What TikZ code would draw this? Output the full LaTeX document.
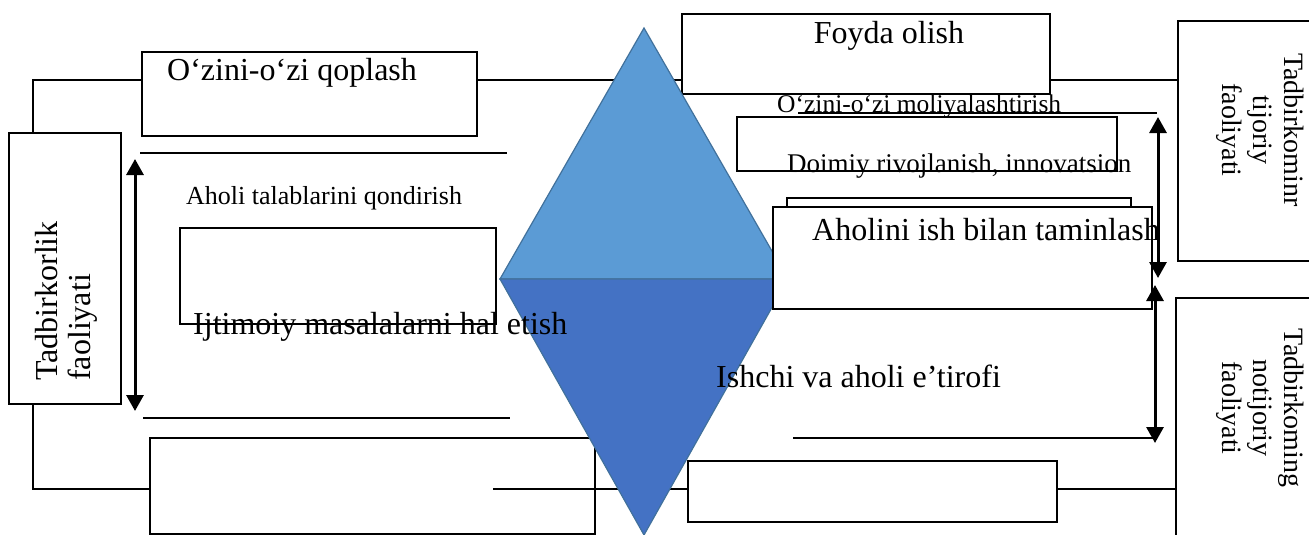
\documentclass[tikz,border=0pt]{standalone}
\usepackage{fontspec}
\setmainfont{Liberation Serif}
\usetikzlibrary{arrows.meta}
\definecolor{dlight}{HTML}{5B9BD5}
\definecolor{ddark}{HTML}{4472C4}
\definecolor{dedge}{HTML}{41719C}
\begin{document}
\begin{tikzpicture}[x=1pt,y=-1pt,
  box/.style={draw=black,line width=1.2pt,inner sep=0pt,outer sep=0pt},
  rule/.style={draw=black,line width=1.2pt},
  dbl/.style={draw=black,line width=3pt,{Triangle[width=17pt,length=16pt]}-{Triangle[width=17pt,length=16pt]}},
  big/.style={font=\fontsize{32}{36}\selectfont,inner sep=0pt,anchor=base west},
  mid/.style={font=\fontsize{26}{30}\selectfont,inner sep=0pt,anchor=base west},
  vert/.style={inner sep=0pt,font=\fontsize{28}{31}\selectfont,align=center}
]
\useasboundingbox (0,0) rectangle (1309,535);
% boxes under the diamond
\node[box,minimum width=112pt,minimum height=271pt] (L) at (65,268.5) {};
\node[box,minimum width=335pt,minimum height=84pt] (B) at (309.5,94) {};
\node[box,minimum width=368pt,minimum height=80pt] (F) at (866,54) {};
\node[box,minimum width=152pt,minimum height=240pt] (R1) at (1254,141) {};
\node[box,minimum width=154pt,minimum height=262pt] (R2) at (1253,429) {};
\node[box,minimum width=445pt,minimum height=96pt] (BL) at (372.5,486) {};
\node[box,minimum width=369pt,minimum height=61pt] (BR) at (872.5,491.5) {};
\node[box,minimum width=316pt,minimum height=96pt] (E1) at (338,276) {};
\node[box,minimum width=380pt,minimum height=54pt] (D) at (927,144) {};
% connectors
\coordinate (j1) at (33,80);
\draw[rule] (j1 |- L.north) -- (j1) -- (j1 -| B.west);
\draw[rule] (j1 -| B.east) -- (j1 -| F.west);
\draw[rule] (j1 -| F.east) -- (j1 -| R1.west);
\coordinate (j2) at (33,489);
\coordinate (j3) at (493,489);
\draw[rule] (j2 |- L.south) -- (j2) -- (j2 -| BL.west);
\draw[rule] (j3) -- (j3 -| BR.west);
\draw[rule] (j3 -| BR.east) -- (j3 -| R2.west);
% diamond
\coordinate (dt) at (644,28);
\coordinate (dl) at (500,279);
\coordinate (dr) at (788,279);
\coordinate (db) at (644,535);
\filldraw[fill=dlight,draw=dedge,line width=1.2pt] (dt) -- (dr) -- (dl) -- cycle;
\filldraw[fill=ddark,draw=dedge,line width=1.2pt] (dl) -- (dr) -- (db) -- cycle;
% boxes over the diamond
\node[box,minimum width=344pt,minimum height=92pt] (K) at (959,244) {};
\node[box,fill=white,minimum width=379pt,minimum height=102pt] (A) at (962.5,258) {};
% rules
\coordinate (r1a) at (140,153); \coordinate (r1b) at (507,153);
\coordinate (r2a) at (143,418); \coordinate (r2b) at (510,418);
\coordinate (r3a) at (798,113); \coordinate (r3b) at (1157,113);
\coordinate (r4a) at (793,438); \coordinate (r4b) at (1155,438);
\draw[rule] (r1a) -- (r1b);
\draw[rule] (r2a) -- (r2b);
\draw[rule] (r3a) -- (r3b);
\draw[rule] (r4a) -- (r4b);
% arrows
\coordinate (a1t) at (135,159); \coordinate (a1b) at (135,411);
\coordinate (a2t) at (1158,117); \coordinate (a2b) at (1158,278);
\coordinate (a3t) at (1155,285); \coordinate (a3b) at (1155,443);
\draw[dbl] (a1t) -- (a1b);
\draw[dbl] (a2t) -- (a2b);
\draw[dbl] (a3t) -- (a3b);
% texts
\node[big] (tB) at (167,81) {O‘zini-o‘zi qoplash};
\node[big,anchor=base] (tF) at (889,44) {Foyda olish};
\node[mid] (tAt) at (186,204) {Aholi talablarini qondirish};
\node[big] (tIj) at (193,334) {Ijtimoiy masalalarni hal etish};
\node[mid,font=\fontsize{25.5}{30}\selectfont] (tMo) at (777,112) {O‘zini-o‘zi moliyalashtirish};
\node[mid,font=\fontsize{27}{30}\selectfont] (tDo) at (787,172) {Doimiy rivojlanish, innovatsion};
\node[big] (tAh) at (812,240) {Aholini ish bilan taminlash};
\node[big] (tIs) at (716,387) {Ishchi va aholi e’tirofi};
\node[inner sep=0pt,rotate=90,align=left,font=\fontsize{32}{33}\selectfont] (tL) at (66,301) {Tadbirkorlik\\faoliyati};
\node[vert,rotate=-90] (tR1) at (1260,130) {Tadbirkominr\\tijoriy\\faoliyati};
\node[vert,rotate=-90] (tR2) at (1260,408) {Tadbirkoming\\notijoriy\\faoliyati};
\end{tikzpicture}
\end{document}
